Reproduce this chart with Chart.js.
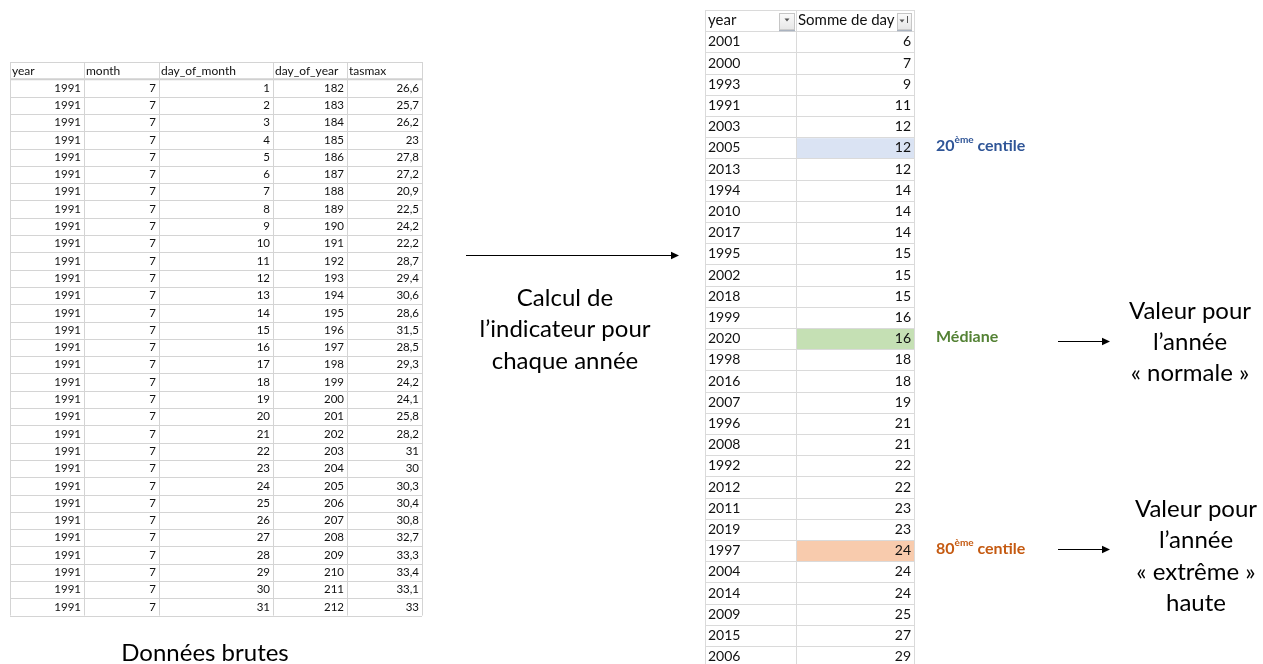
<!DOCTYPE html>
<html>
<head>
<meta charset="utf-8">
<script src="https://cdn.jsdelivr.net/npm/chart.js@4/dist/chart.umd.min.js"></script>
<style>
html,body{margin:0;padding:0;background:#fff;}
#wrap{position:relative;width:1263px;height:664px;}
</style>
</head>
<body>
<div id="wrap"><canvas id="c"></canvas></div>
<script>
// ---- Raw data table (left) ----
const rawHeaders = ['year','month','day_of_month','day_of_year','tasmax'];
const rawYear = Array(31).fill(1991);
const rawMonth = Array(31).fill(7);
const rawDayOfMonth = [1,2,3,4,5,6,7,8,9,10,11,12,13,14,15,16,17,18,19,20,21,22,23,24,25,26,27,28,29,30,31];
const rawDayOfYear = [182,183,184,185,186,187,188,189,190,191,192,193,194,195,196,197,198,199,200,201,202,203,204,205,206,207,208,209,210,211,212];
const rawTasmax = [26.6,25.7,26.2,23,27.8,27.2,20.9,22.5,24.2,22.2,28.7,29.4,30.6,28.6,31.5,28.5,29.3,24.2,24.1,25.8,28.2,31,30,30.3,30.4,30.8,32.7,33.3,33.4,33.1,33];

// ---- Sorted indicator table (right) ----
const sortedHeaders = ['year','Somme de day'];
const sortedYears = [2001,2000,1993,1991,2003,2005,2013,1994,2010,2017,1995,2002,2018,1999,2020,1998,2016,2007,1996,2008,1992,2012,2011,2019,1997,2004,2014,2009,2015,2006];
const sortedDays = [6,7,9,11,12,12,12,14,14,14,15,15,15,16,16,18,18,19,21,21,22,22,23,23,24,24,24,25,27,29];

// highlighted rows
const highlightRows = [5, 14, 24];
const highlightLabels = ['20|ème| centile', 'Médiane', '80|ème| centile'];
const highlightFills = ['#dae3f3', '#c5e0b4', '#f8cbad'];
const highlightColors = ['#2f5597', '#548235', '#c55a11'];

// texts
const leftCaption = 'Données brutes';
const middleCaption = ['Calcul de', 'l\u2019indicateur pour', 'chaque année'];
const normalCaption = ['Valeur pour', 'l\u2019année', '« normale »'];
const extremeCaption = ['Valeur pour', 'l\u2019année', '« extrême »', 'haute'];

const FONT = 'Lato, "Open Sans", sans-serif';

function fmt(v){ return String(v).replace('.', ','); }

const diagramPlugin = {
  id: 'diagram',
  afterDraw(chart){
    const ctx = chart.ctx;
    const xs = chart.scales.x, ys = chart.scales.y;
    const X = v => xs.getPixelForValue(v);
    const Y = v => ys.getPixelForValue(v);
    ctx.save();

    // ---------- Left table ----------
    const lCols = [10, 84, 159, 273, 347, 422];
    const lTop = 62, lRow = 17.3, lRows = rawYear.length + 1;
    ctx.strokeStyle = '#d4d4d4';
    ctx.lineWidth = 1;
    for (let r = 0; r <= lRows; r++){
      const y = Math.round(Y(lTop + r*lRow)) + 0.5;
      ctx.beginPath(); ctx.moveTo(X(lCols[0]), y); ctx.lineTo(X(lCols[5]), y); ctx.stroke();
    }
    ctx.lineWidth = 2; ctx.strokeStyle='#d0d0d0';
    { const y = Y(lTop + lRow); ctx.beginPath(); ctx.moveTo(X(lCols[0]), y); ctx.lineTo(X(lCols[5]), y); ctx.stroke(); }
    ctx.lineWidth = 1; ctx.strokeStyle='#d4d4d4';
    for (const cx of lCols){
      const x = Math.round(X(cx)) + 0.5;
      ctx.beginPath(); ctx.moveTo(x, Y(lTop)); ctx.lineTo(x, Y(lTop + lRows*lRow)); ctx.stroke();
    }
    ctx.fillStyle = '#111';
    ctx.font = '12px ' + FONT;
    ctx.textBaseline = 'middle';
    ctx.textAlign = 'left';
    rawHeaders.forEach((h,i)=>{ ctx.fillText(h, X(lCols[i]+2), Y(lTop + lRow*0.5)); });
    ctx.font = '11.5px ' + FONT;
    ctx.textAlign = 'right';
    const cols = [rawYear, rawMonth, rawDayOfMonth, rawDayOfYear, rawTasmax];
    for (let r = 0; r < rawYear.length; r++){
      const cy = Y(lTop + lRow*(r+1.5));
      cols.forEach((arr,i)=>{ ctx.fillText(fmt(arr[r]), X(lCols[i+1]-3), cy); });
    }
    ctx.fillStyle = '#000';
    ctx.textAlign = 'center';
    ctx.font = '24px ' + FONT;
    ctx.fillText(leftCaption, X(205), Y(653));

    // ---------- Middle arrow & caption ----------
    function arrow(x1, x2, y, head){
      ctx.strokeStyle = '#000'; ctx.fillStyle = '#000'; ctx.lineWidth = 1;
      const yy = Math.round(Y(y)) + 0.5;
      ctx.beginPath(); ctx.moveTo(X(x1), yy); ctx.lineTo(X(x2) - head, yy); ctx.stroke();
      ctx.beginPath(); ctx.moveTo(X(x2), yy); ctx.lineTo(X(x2)-head, yy-head/2.2); ctx.lineTo(X(x2)-head, yy+head/2.2); ctx.closePath(); ctx.fill();
    }
    arrow(466, 679, 255, 8);
    ctx.fillStyle = '#000';
    ctx.font = '24px ' + FONT;
    middleCaption.forEach((t,i)=>ctx.fillText(t, X(565), Y(298 + i*31.5)));

    // ---------- Right table ----------
    const rCols = [705, 796, 914];
    const rTop = 10, rRow = 21.2, rRows = sortedYears.length + 1;
    highlightRows.forEach((ri,k)=>{
      ctx.fillStyle = highlightFills[k];
      ctx.fillRect(X(rCols[1])+1, Y(rTop + rRow*(ri+1))+1, X(rCols[2]) - X(rCols[1]) - 1, rRow - 1);
    });
    ctx.strokeStyle = '#dadada'; ctx.lineWidth = 1;
    for (let r = 0; r <= rRows; r++){
      const y = Math.round(Y(rTop + r*rRow)) + 0.5;
      ctx.beginPath(); ctx.moveTo(X(rCols[0]), y); ctx.lineTo(X(rCols[2]), y); ctx.stroke();
    }
    for (const cx of rCols){
      const x = Math.round(X(cx)) + 0.5;
      ctx.beginPath(); ctx.moveTo(x, Y(rTop)); ctx.lineTo(x, Y(664)); ctx.stroke();
    }
    function btn(x1, x2){
      const y1 = Y(rTop + 3), y2 = Y(rTop + rRow - 1);
      const g = ctx.createLinearGradient(0, y1, 0, y2);
      g.addColorStop(0, '#fbfbfb'); g.addColorStop(1, '#e6e6e6');
      ctx.fillStyle = g; ctx.fillRect(X(x1), y1, X(x2)-X(x1), y2-y1);
      ctx.strokeStyle = '#c6c6c6'; ctx.strokeRect(X(x1)+0.5, y1+0.5, X(x2)-X(x1)-1, y2-y1-1);
      ctx.strokeStyle = '#9aa5b5'; ctx.beginPath(); ctx.moveTo(X(x1), y2+0.5); ctx.lineTo(X(x2), y2+0.5); ctx.stroke();
    }
    btn(779, 795); btn(897, 912);
    ctx.fillStyle = '#555';
    { const cx = X(787), cy = Y(20); ctx.beginPath(); ctx.moveTo(cx-2.5, cy-1.5); ctx.lineTo(cx+2.5, cy-1.5); ctx.lineTo(cx, cy+1.5); ctx.closePath(); ctx.fill(); }
    { const cx = X(902), cy = Y(21); ctx.beginPath(); ctx.moveTo(cx-2.5, cy-1.5); ctx.lineTo(cx+2.5, cy-1.5); ctx.lineTo(cx, cy+1.5); ctx.closePath(); ctx.fill();
      ctx.fillRect(X(907), Y(16), 1, 7); }
    ctx.fillStyle = '#111';
    ctx.font = '15px ' + FONT;
    ctx.textAlign = 'left';
    ctx.fillText(sortedHeaders[0], X(rCols[0]+3), Y(rTop + rRow*0.5));
    ctx.fillText(sortedHeaders[1], X(rCols[1]+2), Y(rTop + rRow*0.5));
    ctx.font = '14px ' + FONT;
    for (let r = 0; r < sortedYears.length; r++){
      const cy = Y(rTop + rRow*(r+1.5));
      ctx.textAlign = 'left';
      ctx.fillText(String(sortedYears[r]), X(rCols[0]+3), cy);
      ctx.textAlign = 'right';
      ctx.fillText(String(sortedDays[r]), X(rCols[2]-3), cy);
    }

    // ---------- Percentile labels ----------
    highlightRows.forEach((ri,k)=>{
      const cy = Y(rTop + rRow*(ri+1.5)) - 2;
      const parts = highlightLabels[k].split('|');
      let x = X(936);
      ctx.fillStyle = highlightColors[k];
      ctx.textAlign = 'left';
      parts.forEach((p,j)=>{
        if (j === 1){ ctx.font = 'bold 10px ' + FONT; ctx.fillText(p, x, cy - 6); }
        else { ctx.font = 'bold 16px ' + FONT; ctx.fillText(p, x, cy); }
        x += ctx.measureText(p).width;
      });
    });

    // ---------- Right arrows & captions ----------
    arrow(1058, 1110, 341, 8);
    arrow(1058, 1110, 549, 8);
    ctx.fillStyle = '#000';
    ctx.font = '24px ' + FONT;
    ctx.textAlign = 'center';
    normalCaption.forEach((t,i)=>ctx.fillText(t, X(1190), Y(311 + i*31)));
    extremeCaption.forEach((t,i)=>ctx.fillText(t, X(1196), Y(509 + i*31.5)));

    ctx.restore();
  }
};

new Chart(document.getElementById('c'), {
  type: 'scatter',
  data: { datasets: [{ data: [], pointRadius: 0 }] },
  options: {
    responsive: true,
    maintainAspectRatio: false,
    animation: false,
    events: [],
    layout: { padding: 0 },
    plugins: { legend: { display: false }, tooltip: { enabled: false } },
    scales: {
      x: { type: 'linear', min: 0, max: 1263, display: false },
      y: { type: 'linear', min: 0, max: 664, reverse: true, display: false }
    }
  },
  plugins: [diagramPlugin]
});
</script>
</body>
</html>
